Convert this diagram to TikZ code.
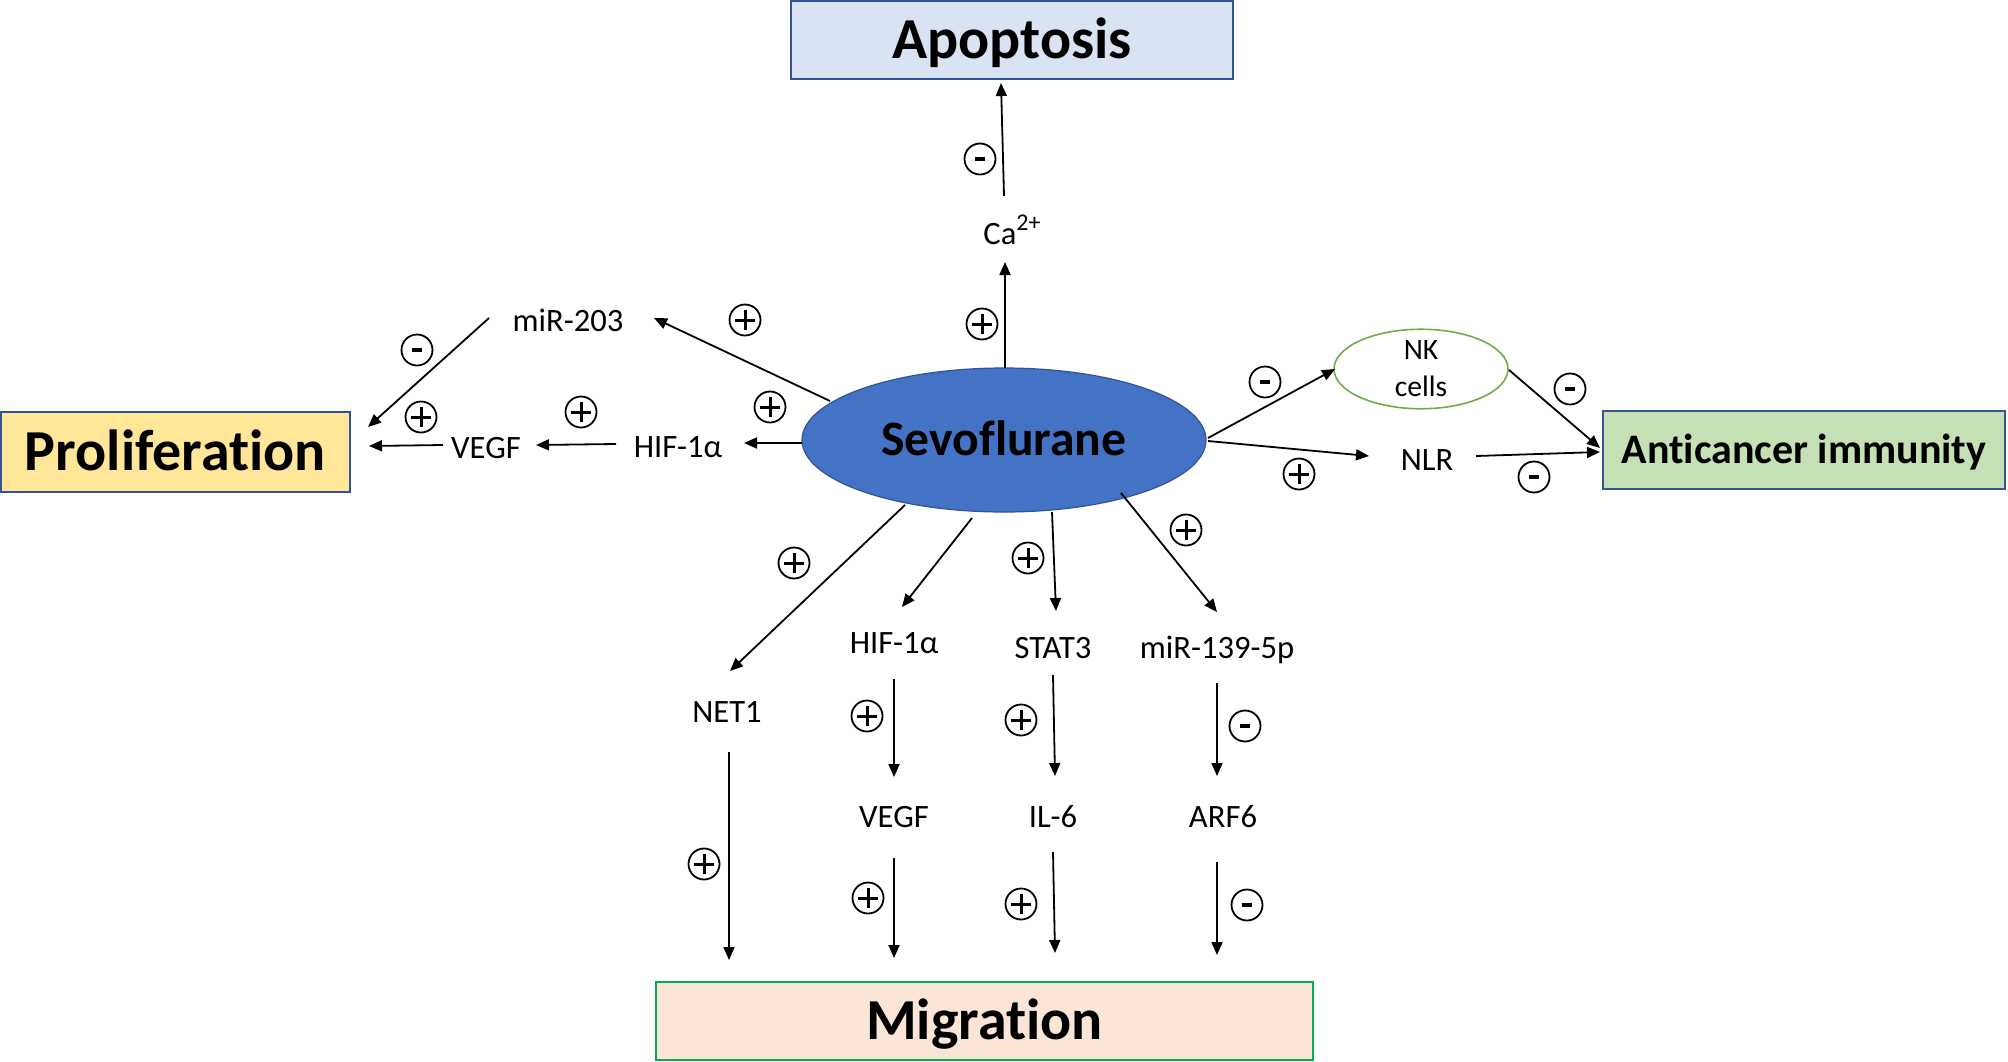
\documentclass[tikz,border=0pt]{standalone}
\usepackage{fontspec}
\setmainfont[Ligatures=CommonOff]{Carlito}
\usetikzlibrary{arrows.meta,shapes.geometric}
\definecolor{apfill}{HTML}{DAE3F3}
\definecolor{prfill}{HTML}{FFE699}
\definecolor{anfill}{HTML}{C5E0B4}
\definecolor{mgfill}{HTML}{FBE5D6}
\definecolor{bdblue}{HTML}{2F5597}
\definecolor{bdgreen}{HTML}{00B050}
\definecolor{sevofill}{HTML}{4472C4}
\definecolor{nkgreen}{HTML}{70AD47}
\begin{document}
\begin{tikzpicture}[x=0.5pt,y=-0.5pt,
  lbl/.style={font=\fontsize{16.3}{19}\selectfont, inner sep=0pt, text height=10.4pt, text depth=0pt},
  box/.style={draw=bdblue, line width=1pt, inner sep=0pt, text height=18.6pt, text depth=0pt, font=\fontsize{29}{34}\selectfont\bfseries},
  arr/.style={line width=0.9pt, -{Triangle[length=6.5pt,width=5.5pt]}},
  sign/.style={circle, draw, line width=0.9pt, minimum size=15.5pt, inner sep=0pt},
  pl/.style={sign, path picture={
    \draw[line width=1.5pt] ([xshift=-5.2pt]path picture bounding box.center) -- ([xshift=5.2pt]path picture bounding box.center)
      ([yshift=-5.2pt]path picture bounding box.center) -- ([yshift=5.2pt]path picture bounding box.center);}},
  mi/.style={sign, path picture={
    \draw[line width=2pt] ([xshift=-2.6pt]path picture bounding box.center) -- ([xshift=2.6pt]path picture bounding box.center);}}
]
\fill[white] (0,0) rectangle (2008,1061);
\useasboundingbox (0,0) rectangle (2008,1061);

% boxes
\node[box, fill=apfill, minimum width=221pt, minimum height=39pt] (apop) at (1012,40) {Apoptosis};
\node[box, fill=prfill, minimum width=174.5pt, minimum height=40pt] (prolif) at (175.5,452) {Proliferation};
\node[box, fill=anfill, minimum width=201pt, minimum height=39pt, text height=13.4pt, font=\fontsize{21}{25}\selectfont\bfseries] (anti) at (1804,450) {Anticancer immunity};
\node[box, draw=bdgreen, fill=mgfill, minimum width=328.5pt, minimum height=39pt] (migr) at (984.5,1021) {Migration};

% central ellipse
\node[ellipse, draw=bdblue, line width=0.6pt, fill=sevofill, minimum width=202pt, minimum height=72pt, inner sep=0pt,
  text height=15.8pt, text depth=0pt, font=\fontsize{24.8}{29}\selectfont\bfseries] (sevo) at (1004,440) {Sevoflurane};
\node[ellipse, draw=nkgreen, line width=0.8pt, minimum width=87pt, minimum height=38pt, inner sep=0pt,
  align=center, font=\fontsize{14.8}{18.5}\selectfont] (nk) at (1421,369) {NK\\cells};

% labels
\node[lbl] (ca) at (1012,234) {Ca\raisebox{0.42em}{\fontsize{12}{14}\selectfont 2+}};
\node[lbl] (mir203) at (568,321) {miR-203};
\node[lbl] (hifl) at (678,447) {HIF-1α};
\node[lbl] (vegfl) at (486,448) {VEGF};
\node[lbl] (nlr) at (1427,460) {NLR};
\node[lbl] (net1) at (727,712) {NET1};
\node[lbl] (hifb) at (894,643) {HIF-1α};
\node[lbl] (stat3) at (1053,648) {STAT3};
\node[lbl] (mir139) at (1217,648) {miR-139-5p};
\node[lbl] (vegfb) at (894,817) {VEGF};
\node[lbl] (il6) at (1053,817) {IL-6};
\node[lbl] (arf6) at (1223,817) {ARF6};

% arrows
\draw[arr] ([shift={(1,-72)}]sevo.center) -- ([shift={(-7,28)}]ca.center);
\draw[arr] ([shift={(-8,-38)}]ca.center) -- ([shift={(-11,43)}]apop.center);
\draw[arr] ([shift={(-174,-39)}]sevo.center) -- ([shift={(86,-3)}]mir203.center);
\draw[arr] ([shift={(-79,-3)}]mir203.center) -- ([shift={(192.5,-25)}]prolif.center);
\draw[arr] ([shift={(-202,3)}]sevo.center) -- ([shift={(66,-4)}]hifl.center);
\draw[arr] ([shift={(-62,-3)}]hifl.center) -- ([shift={(50,-3)}]vegfl.center);
\draw[arr] ([shift={(-43,-3)}]vegfl.center) -- ([shift={(193.5,-6)}]prolif.center);
\draw[arr] ([shift={(204,-2)}]sevo.center) -- ([shift={(-86,0)}]nk.center);
\draw[arr] ([shift={(88,1)}]nk.center) -- ([shift={(-204,-2)}]anti.center);
\draw[arr] ([shift={(204,1)}]sevo.center) -- ([shift={(-58,-4)}]nlr.center);
\draw[arr] ([shift={(49,-4)}]nlr.center) -- ([shift={(-204,2)}]anti.center);
\draw[arr] ([shift={(-99,65)}]sevo.center) -- ([shift={(3,-41)}]net1.center);
\draw[arr] ([shift={(-32,78)}]sevo.center) -- ([shift={(8,-36)}]hifb.center);
\draw[arr] ([shift={(48,72)}]sevo.center) -- ([shift={(3,-37)}]stat3.center);
\draw[arr] ([shift={(117,53)}]sevo.center) -- ([shift={(0,-36)}]mir139.center);
\draw[arr] ([shift={(2,40)}]net1.center) -- ([shift={(-255.5,-61)}]migr.center);
\draw[arr] ([shift={(0,36)}]hifb.center) -- ([shift={(0,-40)}]vegfb.center);
\draw[arr] ([shift={(0,27)}]stat3.center) -- ([shift={(2,-41)}]il6.center);
\draw[arr] ([shift={(0,35)}]mir139.center) -- ([shift={(-6,-41)}]arf6.center);
\draw[arr] ([shift={(0,41)}]vegfb.center) -- ([shift={(-90.5,-63)}]migr.center);
\draw[arr] ([shift={(0,35)}]il6.center) -- ([shift={(70.5,-68)}]migr.center);
\draw[arr] ([shift={(-6,45)}]arf6.center) -- ([shift={(232.5,-66)}]migr.center);

% signs
\node[mi] (s1) at (980,159) {};
\node[pl] (s2) at (982,324) {};
\node[pl] (s3) at (745,320) {};
\node[mi] (s4) at (417,350) {};
\node[pl] (s5) at (421,417) {};
\node[pl] (s6) at (581,412) {};
\node[pl] (s7) at (770,407) {};
\node[mi] (s8) at (1265,382) {};
\node[pl] (s9) at (1299,474) {};
\node[mi] (s10) at (1570,389) {};
\node[mi] (s11) at (1534,477) {};
\node[pl] (s12) at (794,563) {};
\node[pl] (s13) at (1028,558) {};
\node[pl] (s14) at (1186,530) {};
\node[pl] (s15) at (867,716) {};
\node[pl] (s16) at (1021,720) {};
\node[mi] (s17) at (1245,726) {};
\node[pl] (s18) at (704,864) {};
\node[pl] (s19) at (868,898) {};
\node[pl] (s20) at (1021,904) {};
\node[mi] (s21) at (1247,905) {};
\end{tikzpicture}
\end{document}
